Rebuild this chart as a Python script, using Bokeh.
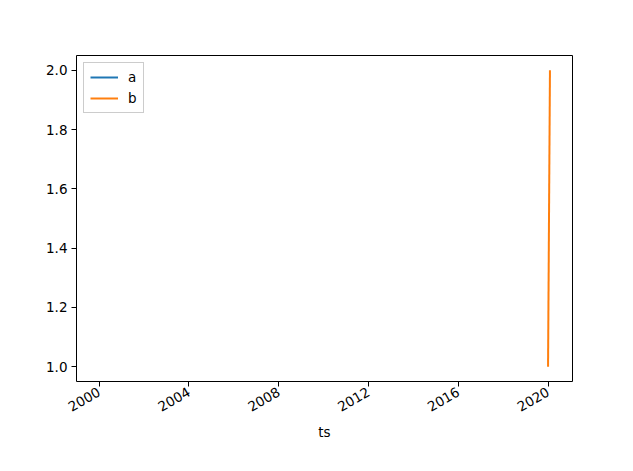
import math
import pandas as pd
from bokeh.plotting import figure
from bokeh.models import Range1d, FixedTicker, Legend, LegendItem
from bokeh.embed import file_html
from bokeh.resources import INLINE

# data
a_ts = ["2000-01-01"]
a_vals = [1.0]
b_ts = ["2020-01-01", "2020-02-01"]
b_vals = [1.0, 2.0]
x_tick_years = [2000, 2004, 2008, 2012, 2016, 2020]
y_ticks = [1.0, 1.2, 1.4, 1.6, 1.8, 2.0]

a_x = pd.to_datetime(a_ts)
b_x = pd.to_datetime(b_ts)

all_x = list(a_x) + list(b_x)
xmin, xmax = min(all_x), max(all_x)
span = xmax - xmin
x0 = xmin - span * 0.05
x1 = xmax + span * 0.05
all_y = a_vals + b_vals
ymin, ymax = min(all_y), max(all_y)
ypad = (ymax - ymin) * 0.05

to_ms = lambda t: pd.Timestamp(t).value / 1e6

p = figure(width=617, height=455, output_backend="svg", toolbar_location=None,
           x_axis_type="datetime",
           x_range=Range1d(to_ms(x0), to_ms(x1)),
           y_range=Range1d(ymin - ypad, ymax + ypad),
           min_border_left=76, min_border_top=55, min_border_right=45, min_border_bottom=74)
p.frame_width = 496
p.frame_height = 326

la = p.line(a_x, a_vals, line_color="#1f77b4", line_width=2)
lb = p.line(b_x, b_vals, line_color="#ff7f0e", line_width=2)

p.grid.visible = False
p.outline_line_color = "black"
p.outline_line_width = 1
p.outline_line_alpha = 1
p.background_fill_color = "white"
p.border_fill_color = "white"

tick_ms = [to_ms(f"{y}-01-01") for y in x_tick_years]
p.xaxis.ticker = FixedTicker(ticks=tick_ms)
p.xaxis.major_label_overrides = {t: str(y) for t, y in zip(tick_ms, x_tick_years)}
p.xaxis.major_label_orientation = math.pi / 6
p.xaxis.axis_label = "ts"

p.yaxis.ticker = FixedTicker(ticks=y_ticks)
p.yaxis.major_label_overrides = {v: f"{v:.1f}" for v in y_ticks}

for ax in [p.xaxis[0], p.yaxis[0]]:
    ax.axis_line_color = None
    ax.major_tick_line_color = "black"
    ax.major_tick_in = 0
    ax.major_tick_out = 5
    ax.minor_tick_line_color = None
    ax.major_label_text_font = "DejaVu Sans"
    ax.major_label_text_font_size = "13.5px"
    ax.major_label_text_color = "black"
    ax.axis_label_text_font = "DejaVu Sans"
    ax.axis_label_text_font_size = "13.5px"
    ax.axis_label_text_font_style = "normal"
    ax.axis_label_text_color = "black"
    ax.major_label_standoff = 4

legend = Legend(items=[LegendItem(label="a", renderers=[la]),
                       LegendItem(label="b", renderers=[lb])],
                location="top_left")
legend.label_text_font = "DejaVu Sans"
legend.label_text_font_size = "13.5px"
legend.label_text_color = "black"
legend.border_line_color = "#cccccc"
legend.border_line_alpha = 1
legend.background_fill_alpha = 0.8
legend.glyph_width = 28
legend.glyph_height = 14
legend.label_standoff = 10
legend.label_width = 8
legend.spacing = 5
legend.padding = 6
legend.margin = 7
p.add_layout(legend)

open("out.html", "w").write(file_html(p, INLINE))
